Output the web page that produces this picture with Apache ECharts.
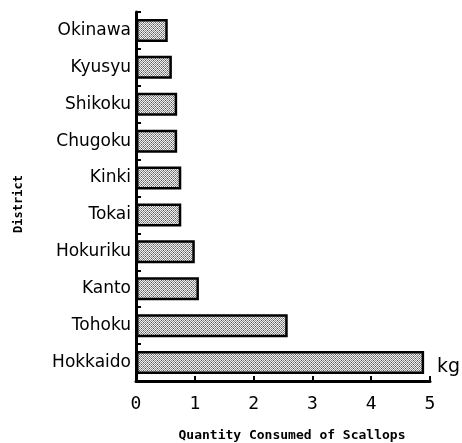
<!DOCTYPE html>
<html><head><meta charset="utf-8">
<script src="https://cdn.jsdelivr.net/npm/echarts@6/dist/echarts.min.js"></script>
<style>html,body{margin:0;padding:0;background:#fff}#c{width:462px;height:443px}</style>
</head><body><div id="c"></div>
<script>
const districts = ['Hokkaido','Tohoku','Kanto','Hokuriku','Tokai','Kinki','Chugoku','Shikoku','Kyusyu','Okinawa'];
const consumption = [4.9, 2.58, 1.07, 1.0, 0.77, 0.77, 0.7, 0.7, 0.61, 0.54];
const xTicks = [0, 1, 2, 3, 4, 5];

const pc = document.createElement('canvas');
pc.width = 4; pc.height = 4;
const g = pc.getContext('2d');
g.fillStyle = '#8a8a8a'; g.fillRect(0,0,4,4);
g.fillStyle = '#f0f0f0';
[[0,0],[2,0],[1,1],[3,1],[0,2],[2,2],[1,3],[3,3]].forEach(p => g.fillRect(p[0],p[1],1,1));
g.fillStyle = '#555';
[[1,0],[3,2]].forEach(p => g.fillRect(p[0],p[1],1,1));

const chart = echarts.init(document.getElementById('c'));
chart.setOption({
  animation: false,
  grid: {left: 136, top: 12, right: 32, bottom: 62, containLabel: false},
  xAxis: {
    type: 'value', min: 0, max: 5, interval: 1,
    axisLine: {show: true, lineStyle: {color: '#000', width: 3}},
    axisTick: {show: true, inside: true, length: 5, lineStyle: {color: '#000', width: 2}},
    splitLine: {show: false},
    axisLabel: {color: '#000', fontSize: 18, fontFamily: 'DejaVu Sans Mono', margin: 14,
      formatter: v => xTicks.includes(v) ? String(v) : ''}
  },
  yAxis: {
    type: 'category', data: districts,
    axisLine: {show: true, lineStyle: {color: '#000', width: 3}},
    axisTick: {show: true, inside: true, length: 5, lineStyle: {color: '#000', width: 2}},
    axisLabel: {color: '#000', fontSize: 17, fontFamily: 'DejaVu Sans', margin: 5}
  },
  series: [{
    type: 'bar', data: consumption, barWidth: 23,
    itemStyle: {color: {image: pc, repeat: 'repeat'}, borderColor: '#000', borderWidth: 2.5}
  }],
  graphic: [
    {type: 'text', left: 437, top: 358, style: {text: 'kg', fontSize: 19, fontFamily: 'DejaVu Sans', fill: '#000'}},
    {type: 'text', x: 292, y: 436, style: {text: 'Quantity Consumed of Scallops', fontSize: 13, fontWeight: 'bold', fontFamily: 'DejaVu Sans Mono', fill: '#000', align: 'center', verticalAlign: 'middle'}},
    {type: 'text', x: 19, y: 204, rotation: Math.PI/2, style: {text: 'District', fontSize: 12, fontWeight: 'bold', fontFamily: 'DejaVu Sans Mono', fill: '#000', align: 'center', verticalAlign: 'middle'}}
  ]
});
</script></body></html>
